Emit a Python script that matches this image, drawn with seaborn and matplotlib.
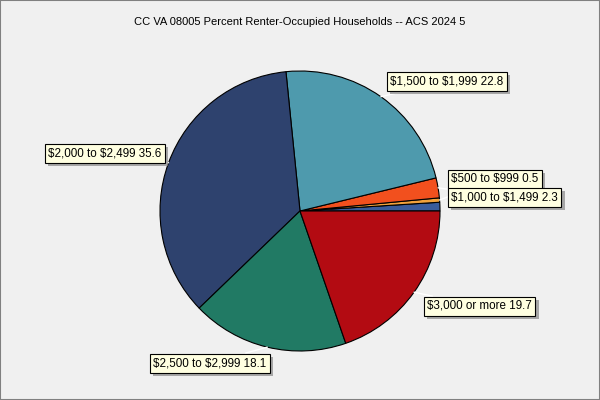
import numpy as np
import matplotlib
matplotlib.use("Agg")
import matplotlib.pyplot as plt
import matplotlib.patheffects as pe
from matplotlib.patches import Rectangle
import seaborn as sns

sns.set_style("white")
plt.rcParams['font.family'] = ['Liberation Sans', 'DejaVu Sans']

title = "CC VA 08005 Percent Renter-Occupied Households -- ACS 2024 5"
categories = ["Less than $500", "$500 to $999", "$1,000 to $1,499", "$1,500 to $1,999",
              "$2,000 to $2,499", "$2,500 to $2,999", "$3,000 or more"]
values = [1.0, 0.5, 2.3, 22.8, 35.6, 18.1, 19.7]
show_label = [False, True, True, True, True, True, True]
colors = ["#3A5C9C", "#F2A23C", "#F2501E", "#4E9AAD", "#2E426E", "#217A64", "#B30B12"]
# label text left / centre positions in pixel coords (layout)
label_px = {1: (451, 179), 2: (451, 197.5), 3: (390, 81.5), 4: (48, 153), 5: (153, 363), 6: (427, 306)}

W, H = 600, 400
R = 140.0
cx, cy = 300, 211
fig = plt.figure(figsize=(6, 4), dpi=100, facecolor="#F0F0F0")
ax = fig.add_axes([0, 0, 1, 1])
ax.set_facecolor("#F0F0F0")
ax.set_aspect("equal")
ax.axis("off")

wedges, _ = ax.pie(values, colors=colors, startangle=0, counterclock=True,
                   wedgeprops=dict(edgecolor="black", linewidth=0.8), radius=1.0,
                   center=(0, 0), frame=False)
ax.set_xlim(-cx / R, (W - cx) / R)
ax.set_ylim(-(H - cy) / R, cy / R)

def px2d(x, y):
    return ((x - cx) / R, (cy - y) / R)

for i, w in enumerate(wedges):
    if not show_label[i]:
        continue
    th = np.deg2rad((w.theta1 + w.theta2) / 2)
    pt = (np.cos(th), np.sin(th))
    lx, ly = px2d(*label_px[i])
    t = ax.annotate(f"{categories[i]} {values[i]}", xy=pt, xytext=(lx, ly),
                    ha="left", va="center", fontsize=8.4, color="black", parse_math=False,
                    bbox=dict(boxstyle="square,pad=0.3", fc="#FFFFE1", ec="black", lw=0.8),
                    arrowprops=dict(arrowstyle="-", color="white", lw=1, shrinkA=0, shrinkB=0),
                    zorder=5)
    t.get_bbox_patch().set_path_effects([pe.SimplePatchShadow(offset=(2.5, -2.5), shadow_rgbFace="#888888", alpha=0.7), pe.Normal()])

fig.text(0.5, 1 - 22 / H, title, ha="center", va="center", fontsize=8.0, color="black")

fig.patches.append(Rectangle((0, 0), 1, 1, transform=fig.transFigure, fill=False,
                             ec="#808080", lw=1.5))
fig.savefig("out.png", dpi=100, facecolor=fig.get_facecolor())
